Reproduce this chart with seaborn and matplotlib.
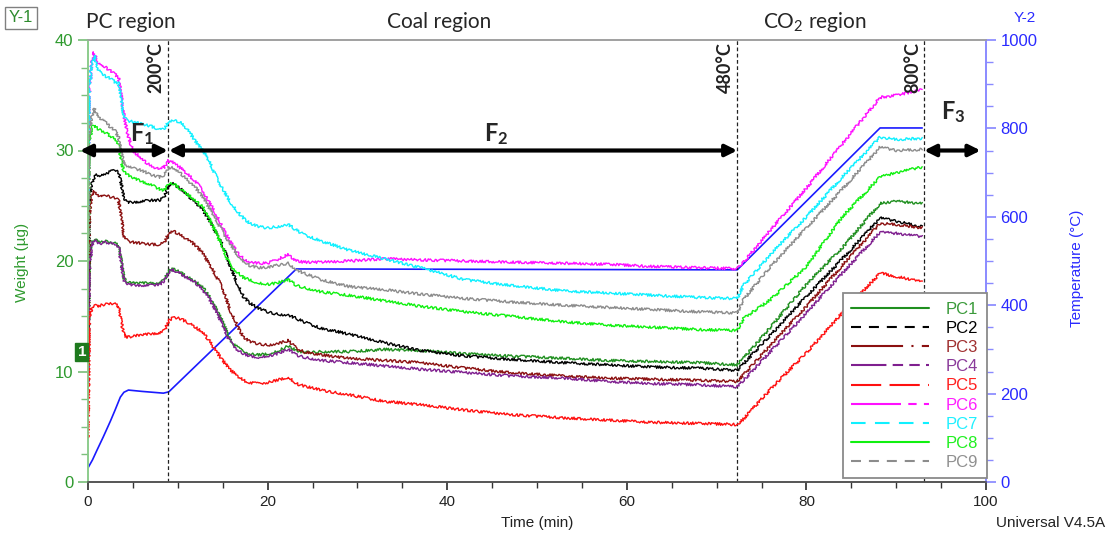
import matplotlib
matplotlib.use("Agg")
import matplotlib.pyplot as plt
from matplotlib.lines import Line2D
import numpy as np
import pandas as pd
import seaborn as sns

# ---------------------------------------------------------------- data
time_min = [0, 0.15, 0.4, 0.7, 1.0, 1.5, 2.0, 2.5, 3.0, 3.4, 3.7, 4.0, 4.4, 5.0,
            6.0, 7.0, 8.0, 8.5, 9.0, 9.5, 10.2, 11.0, 12.0, 12.8, 13.5, 14.3,
            15.0, 15.8, 16.6, 17.3, 18.0, 19.0, 20.0, 21.0, 22.3, 23.2, 24.0,
            26.0, 29.0, 33.0, 37.0, 42.0, 47.0, 53.0, 58.0, 63.0, 68.0, 72.3,
            73.0, 76.0, 80.0, 84.0, 88.2, 90.0, 92.9]

pc1 = [10.0, 19.5, 21.6, 22.0, 21.8, 21.7, 21.8, 21.7, 21.6, 21.4, 20.0, 18.4,
       18.1, 18.0, 18.0, 18.0, 18.0, 18.3, 19.1, 19.3, 19.0, 18.6, 18.1, 17.6,
       16.8, 15.6, 14.5, 12.9, 12.2, 11.8, 11.6, 11.5, 11.6, 11.8, 12.3, 11.9,
       11.7, 11.8, 11.8, 12.0, 11.9, 11.6, 11.4, 11.2, 11.0, 10.9, 10.8, 10.6,
       11.2, 14.0, 17.9, 21.2, 25.2, 25.4, 25.2]
pc2 = [14.0, 25.5, 27.0, 27.6, 27.8, 27.7, 27.9, 28.1, 28.2, 28.0, 27.0, 25.6,
       25.3, 25.3, 25.4, 25.5, 25.5, 25.8, 26.9, 27.0, 26.6, 26.0, 25.3, 24.6,
       23.7, 22.5, 21.4, 19.6, 18.0, 16.8, 16.2, 15.7, 15.4, 15.2, 15.1, 14.8,
       14.5, 13.9, 13.4, 12.6, 11.9, 11.4, 11.1, 10.8, 10.6, 10.4, 10.3, 10.1,
       10.7, 13.3, 16.8, 20.2, 23.9, 23.6, 23.1]
pc3 = [12.0, 24.0, 26.0, 26.3, 26.0, 25.8, 25.9, 25.8, 25.7, 25.5, 24.0, 22.2,
       21.8, 21.7, 21.6, 21.5, 21.5, 21.7, 22.5, 22.7, 22.4, 22.0, 21.4, 20.7,
       19.7, 18.6, 17.5, 15.6, 14.2, 13.1, 12.7, 12.5, 12.4, 12.5, 12.8, 12.1,
       11.8, 11.5, 11.2, 11.0, 10.8, 10.3, 9.9, 9.6, 9.4, 9.3, 9.2, 9.1,
       9.7, 12.4, 15.9, 19.6, 23.4, 23.3, 23.0]
pc4 = [9.0, 19.0, 21.4, 21.9, 21.7, 21.6, 21.7, 21.6, 21.5, 21.3, 19.8, 18.2,
       17.9, 17.8, 17.8, 17.8, 17.9, 18.2, 19.0, 19.2, 18.9, 18.5, 18.0, 17.4,
       16.6, 15.4, 14.2, 12.7, 12.0, 11.6, 11.4, 11.3, 11.4, 11.6, 12.0, 11.5,
       11.3, 11.0, 10.8, 10.5, 10.2, 9.9, 9.6, 9.4, 9.1, 8.9, 8.8, 8.6,
       9.2, 11.8, 15.3, 18.9, 22.6, 22.5, 22.2]
pc5 = [4.0, 14.5, 15.8, 16.0, 15.9, 16.0, 16.1, 16.2, 16.1, 15.9, 14.5, 13.3,
       13.1, 13.2, 13.3, 13.4, 13.5, 13.7, 14.6, 14.9, 14.8, 14.5, 14.0, 13.5,
       12.8, 11.8, 11.0, 10.2, 9.6, 9.2, 9.0, 8.9, 9.0, 9.2, 9.5, 8.9,
       8.7, 8.3, 7.9, 7.3, 7.0, 6.5, 6.1, 5.8, 5.6, 5.4, 5.3, 5.2,
       5.7, 8.4, 11.7, 15.3, 18.9, 18.6, 18.1]
pc6 = [25.0, 35.0, 38.0, 38.9, 38.0, 37.6, 37.5, 37.2, 36.9, 36.6, 35.0, 33.2,
       31.5, 30.0, 29.2, 28.6, 28.3, 28.5, 29.1, 28.9, 28.5, 27.9, 27.2, 26.3,
       25.3, 24.2, 23.0, 21.8, 20.8, 20.2, 19.9, 19.8, 19.8, 20.1, 20.6, 20.0,
       19.9, 19.9, 20.0, 20.2, 20.1, 20.0, 19.9, 19.8, 19.7, 19.5, 19.4, 19.3,
       19.9, 22.8, 26.6, 30.6, 34.8, 35.0, 35.5]
pc7 = [25.0, 35.5, 37.8, 38.6, 37.5, 36.9, 36.7, 36.5, 36.2, 36.1, 34.5, 33.0,
       32.7, 32.6, 32.4, 32.2, 31.9, 32.0, 32.6, 32.7, 32.6, 32.0, 30.8, 30.0,
       29.0, 27.6, 26.5, 25.4, 24.5, 23.9, 23.4, 23.1, 23.0, 23.1, 23.3, 22.8,
       22.4, 21.8, 21.0, 20.2, 19.4, 18.3, 17.8, 17.3, 17.1, 16.9, 16.7, 16.6,
       17.8, 20.6, 24.0, 27.6, 31.2, 31.0, 31.1]
pc8 = [20.0, 30.5, 32.1, 32.3, 32.0, 31.8, 31.6, 31.3, 31.0, 30.6, 29.0, 28.1,
       27.8, 27.5, 27.2, 26.9, 26.5, 26.4, 27.0, 27.0, 26.6, 26.1, 25.4, 24.9,
       23.8, 22.5, 21.2, 19.6, 19.0, 18.5, 18.3, 18.0, 17.9, 18.0, 18.3, 17.8,
       17.6, 17.2, 16.9, 16.4, 15.9, 15.4, 15.0, 14.5, 14.2, 14.0, 13.8, 13.7,
       14.8, 16.5, 19.5, 24.0, 27.6, 28.0, 28.5]
pc9 = [20.0, 31.5, 33.0, 33.8, 33.2, 32.8, 32.5, 32.1, 31.8, 31.2, 29.8, 28.9,
       28.6, 28.4, 28.2, 27.8, 27.6, 27.8, 28.5, 28.4, 28.0, 27.4, 26.6, 25.8,
       24.8, 23.7, 22.6, 21.6, 20.6, 20.0, 19.6, 19.4, 19.4, 19.6, 19.8, 19.2,
       18.9, 18.3, 17.7, 17.4, 17.0, 16.6, 16.3, 16.0, 15.8, 15.6, 15.4, 15.3,
       16.5, 19.5, 23.0, 26.5, 30.3, 30.0, 30.1]

series_names = ["PC1", "PC2", "PC3", "PC4", "PC5", "PC6", "PC7", "PC8", "PC9"]
series_values = [pc1, pc2, pc3, pc4, pc5, pc6, pc7, pc8, pc9]

# furnace temperature programme
temp_time = [0, 0.5, 1.0, 1.7, 2.5, 3.0, 3.6, 4.0, 4.5, 6.0, 8.4, 9.0,
             23.2, 72.3, 88.2, 92.9]
temp_c = [32, 50, 72, 102, 138, 162, 192, 203, 208, 205, 201, 204,
          482, 480, 801, 801]

# stage boundaries (min) and their temperatures
stage_times = [8.9, 72.3, 93.1]
stage_labels = ["200°C", "480°C", "800°C"]

# ---------------------------------------------------------------- style
colors = {"PC1": "#1f8f1f", "PC2": "#000000", "PC3": "#8b1010", "PC4": "#7f1f8f",
          "PC5": "#ff1010", "PC6": "#ff10ff", "PC7": "#10f0ff", "PC8": "#10f010",
          "PC9": "#8c8c8c"}
text_colors = {"PC1": "#3a9a3a", "PC2": "#000000", "PC3": "#a03030", "PC4": "#8a3a9a",
               "PC5": "#ff2020", "PC6": "#ff20ff", "PC7": "#20f0ff", "PC8": "#20f020",
               "PC9": "#909090"}
legend_dashes = {"PC1": "-", "PC2": (0, (4.8, 3.8)), "PC3": (0, (25, 4, 1, 4)),
                 "PC4": (0, (17, 3, 5, 3, 5, 3)), "PC5": (0, (14.5, 4)),
                 "PC6": (0, (24, 3.5, 4, 3.5)), "PC7": (0, (7, 4.5)),
                 "PC8": "-", "PC9": (0, (4.8, 3.8))}

sns.set_theme(style="white")
plt.rcParams["font.family"] = ["Liberation Sans", "DejaVu Sans"]
plt.rcParams["mathtext.fontset"] = "custom"
plt.rcParams["mathtext.rm"] = "Lato"
plt.rcParams["mathtext.bf"] = "Lato:bold"

GREEN_AX = "#2e9a2e"
BLUE_AX = "#2a2aff"

df = pd.DataFrame({
    "time": np.tile(time_min, len(series_names)),
    "weight": np.concatenate(series_values),
    "sample": np.repeat(series_names, len(time_min)),
})
temp_df = pd.DataFrame({"time": temp_time, "temp": temp_c})

fig = plt.figure(figsize=(11.11, 5.36), dpi=100)
ax = fig.add_axes([88 / 1111, 1 - 482 / 536, (986 - 88) / 1111, (482 - 40) / 536])

sns.lineplot(data=df, x="time", y="weight", hue="sample", palette=colors,
             estimator=None, sort=False, linewidth=1.0, legend=False, ax=ax)
# balance-signal jitter as a rendering style of the weight traces
for ln in ax.get_lines():
    ln.set_sketch_params(scale=1.3, length=2.0, randomness=4.0)

ax2 = ax.twinx()
sns.lineplot(data=temp_df, x="time", y="temp", color="#1a1aff", linewidth=1.2,
             estimator=None, sort=False, legend=False, ax=ax2)

# axes limits and ticks
ax.set_xlim(0, 100)
ax.set_ylim(0, 40)
ax2.set_ylim(0, 1000)
ax.set_xticks(np.arange(0, 101, 20))
ax.set_xticks(np.arange(0, 101, 5), minor=True)
ax.set_yticks(np.arange(0, 41, 10))
ax.set_yticks(np.arange(0, 41, 2.5), minor=True)
ax2.set_yticks(np.arange(0, 1001, 200))
ax2.set_yticks(np.arange(0, 1001, 50), minor=True)

ax.tick_params(axis="x", which="both", direction="out", bottom=True, colors="#333333",
               labelcolor="#222222", labelsize=11)
ax.tick_params(axis="x", which="major", length=6)
ax.tick_params(axis="x", which="minor", length=4)
ax.tick_params(axis="y", which="both", direction="out", left=True, colors="#7cc07c",
               labelcolor=GREEN_AX, labelsize=12)
ax.tick_params(axis="y", which="major", length=7)
ax.tick_params(axis="y", which="minor", length=5)
ax2.tick_params(axis="y", which="both", direction="out", right=True, colors="#8a8aff",
                labelcolor=BLUE_AX, labelsize=12)
ax2.tick_params(axis="y", which="major", length=7)
ax2.tick_params(axis="y", which="minor", length=5)

for a in (ax, ax2):
    a.grid(False)
    a.spines["top"].set_color("#a0a0a0")
    a.spines["bottom"].set_color("#555555")
    a.spines["left"].set_color("#8ccc8c")
    a.spines["right"].set_color("#8a8aff")
    for s in a.spines.values():
        s.set_linewidth(1.2)
ax.set_xlabel("")
ax.set_ylabel("")
ax2.set_ylabel("")

fig.text(537 / 1111, 1 - 523 / 536, "Time (min)", ha="center", va="center",
         fontsize=11, color="#222222")
fig.text(1105 / 1111, 1 - 523 / 536, "Universal V4.5A", ha="right", va="center",
         fontsize=11, color="#222222")
fig.text(22 / 1111, 1 - 262 / 536, "Weight (µg)", ha="center", va="center",
         rotation=90, fontsize=11, color=GREEN_AX)
fig.text(1077 / 1111, 1 - 268 / 536, "Temperature (°C)", ha="center", va="center",
         rotation=90, fontsize=11, color=BLUE_AX)
fig.text(21 / 1111, 1 - 18 / 536, "Y-1", ha="center", va="center", fontsize=12,
         color="#2e8b2e",
         bbox=dict(boxstyle="square,pad=0.2", fc="white", ec="#808080", lw=1))
fig.text(1025 / 1111, 1 - 18 / 536, "Y-2", ha="center", va="center", fontsize=11,
         color=BLUE_AX)

# region headings
fig.text(131 / 1111, 1 - 22 / 536, "PC region", ha="center", va="center",
         fontsize=15, family="Lato")
fig.text(439 / 1111, 1 - 22 / 536, "Coal region", ha="center", va="center",
         fontsize=15, family="Lato")
fig.text(815 / 1111, 1 - 22 / 536, "CO$_2$ region", ha="center", va="center",
         fontsize=15, family="Lato")

# stage boundaries
for t, lab in zip(stage_times, stage_labels):
    ax.axvline(t, color="#222222", lw=0.9, ls=(0, (3, 2)), zorder=1)
    ax.text(t - 0.35, 39.8, lab, rotation=90, ha="right", va="top",
            fontsize=13, fontweight="bold", family="Lato", color="#222222")

# F1 / F2 / F3 spans
arrow_kw = dict(arrowstyle="<|-|>", lw=3, color="black", mutation_scale=17,
                shrinkA=0, shrinkB=0)
spans = [(-0.9, stage_times[0]), (stage_times[0] + 0.1, stage_times[1]),
         (stage_times[2], 99.4)]
for x0, x1 in spans:
    ax.annotate("", xy=(x1, 30), xytext=(x0, 30), arrowprops=arrow_kw,
                annotation_clip=False, zorder=6)
ax.text(6.0, 31.5, r"$\mathbf{F_1}$", ha="center", va="center", fontsize=17)
ax.text(45.5, 31.5, r"$\mathbf{F_2}$", ha="center", va="center", fontsize=17)
ax.text(96.3, 33.5, r"$\mathbf{F_3}$", ha="center", va="center", fontsize=17)

# curve marker on the weight axis
ax.text(-0.2, 11.75, "1", ha="right", va="center", fontsize=11, color="white",
        fontweight="bold", clip_on=False,
        bbox=dict(boxstyle="square,pad=0.15", fc="#1e7a1e", ec="#1e7a1e"))

# legend
handles = [Line2D([0], [0], color=colors[n], lw=1.5, ls=legend_dashes[n])
           for n in series_names]
leg = ax.legend(handles, series_names, loc="lower right",
                bbox_to_anchor=(1.001, 0.008), fontsize=12, handlelength=4.7,
                handletextpad=1.0, labelspacing=0.25, borderpad=0.5,
                borderaxespad=0.0, frameon=True, fancybox=False,
                edgecolor="#8a8a8a", framealpha=1.0)
leg.get_frame().set_linewidth(1.3)
for txt, n in zip(leg.get_texts(), series_names):
    txt.set_color(text_colors[n])
leg.set_zorder(10)
ax.set_zorder(ax2.get_zorder() + 1)
ax.patch.set_visible(False)

fig.savefig("out.png", dpi=100)
